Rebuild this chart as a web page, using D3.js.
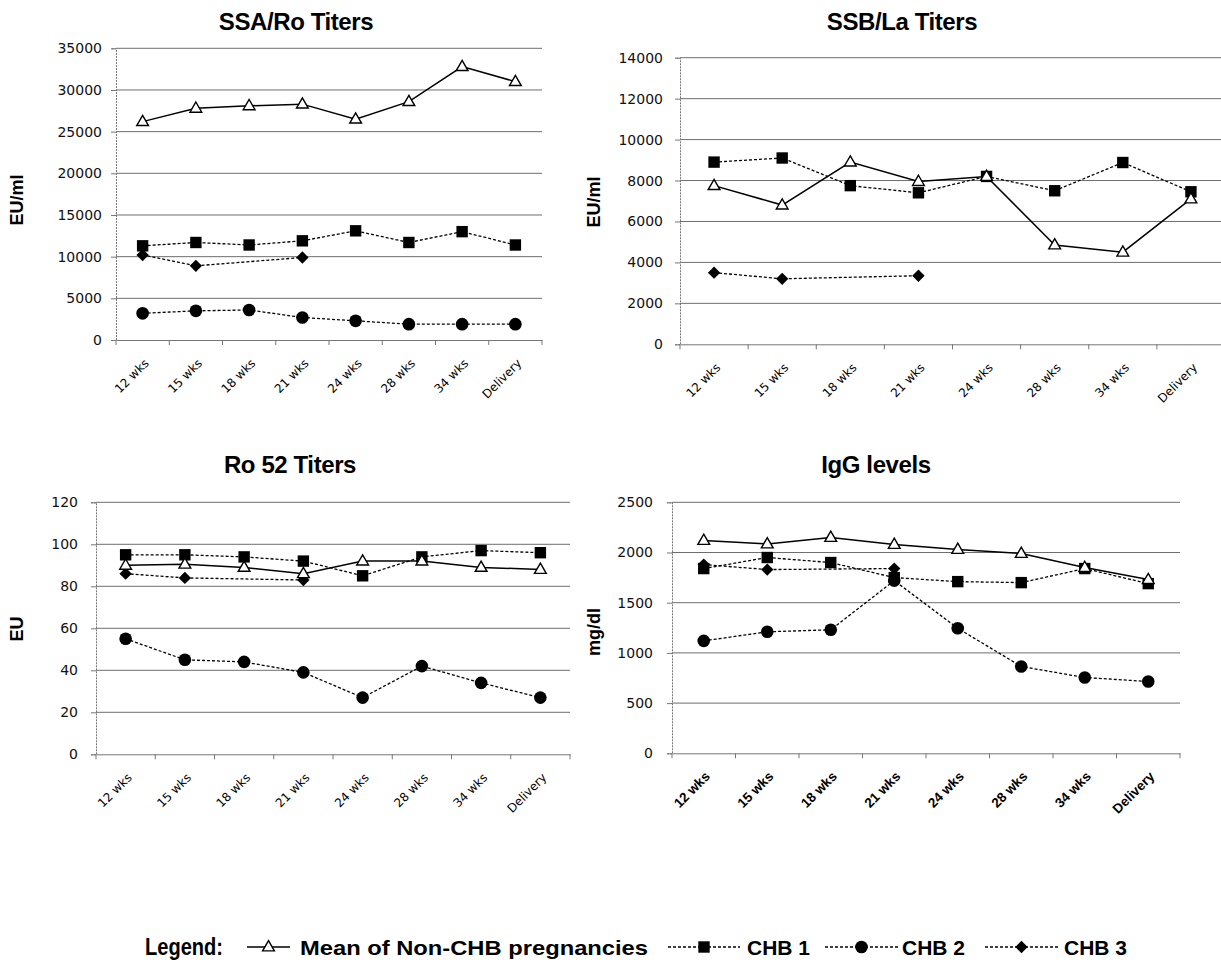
<!DOCTYPE html>
<html>
<head>
<meta charset="utf-8">
<script src="https://cdn.jsdelivr.net/npm/d3@7"></script>
<style>
  body { margin: 0; background: #fff; }
  svg { display: block; }
</style>
</head>
<body>
<svg id="chart" width="1221" height="962"></svg>
<script>
// ---------- DATA ----------
const categories = ["12 wks", "15 wks", "18 wks", "21 wks", "24 wks", "28 wks", "34 wks", "Delivery"];

const seriesNames = ["Mean of Non-CHB pregnancies", "CHB 1", "CHB 2", "CHB 3"];

// SSA/Ro Titers (EU/ml)
const ssaMean = [26200, 27800, 28100, 28300, 26500, 28600, 32800, 31000];
const ssaChb1 = [11300, 11700, 11400, 11900, 13100, 11700, 13000, 11400];
const ssaChb2 = [3200, 3500, 3600, 2700, 2300, 1900, 1900, 1900];
const ssaChb3 = [10200, 8900, null, 9900, null, null, null, null];
const ssaTicks = [0, 5000, 10000, 15000, 20000, 25000, 30000, 35000];

// SSB/La Titers (EU/ml)
const ssbMean = [7750, 6800, 8900, 7950, 8200, 4850, 4500, 7100];
const ssbChb1 = [8900, 9100, 7750, 7400, 8200, 7500, 8880, 7450];
const ssbChb2 = [null, null, null, null, null, null, null, null];
const ssbChb3 = [3500, 3200, null, 3350, null, null, null, null];
const ssbTicks = [0, 2000, 4000, 6000, 8000, 10000, 12000, 14000];

// Ro 52 Titers (EU)
const roMean = [90, 90.5, 89, 86, 92, 92, 89, 88];
const roChb1 = [95, 95, 94, 92, 85, 94, 97, 96];
const roChb2 = [55, 45, 44, 39, 27, 42, 34, 27];
const roChb3 = [86, 84, null, 83, null, null, null, null];
const roTicks = [0, 20, 40, 60, 80, 100, 120];

// IgG levels (mg/dl)
const iggMean = [2120, 2085, 2150, 2080, 2030, 1990, 1850, 1730];
const iggChb1 = [1840, 1950, 1900, 1750, 1710, 1700, 1840, 1690];
const iggChb2 = [1120, 1210, 1230, 1720, 1245, 865, 755, 715];
const iggChb3 = [1880, 1830, null, 1840, null, null, null, null];
const iggTicks = [0, 500, 1000, 1500, 2000, 2500];

// ---------- LAYOUT ----------
const svg = d3.select("#chart");
svg.append("rect").attr("width", 1221).attr("height", 962).attr("fill", "#fff");

const panels = [
  { title: "SSA/Ro Titers", titleX: 296, titleY: 30, yLabel: "EU/ml", yLabelX: 17, yLabelY: 200,
    x0: 116, x1: 542, yTop: 48.3, yBot: 340, ticks: ssaTicks, pad: 9,
    series: [ssaMean, ssaChb1, ssaChb2, ssaChb3], xFont: 12.5 },
  { title: "SSB/La Titers", titleX: 902, titleY: 30, yLabel: "EU/ml", yLabelX: 594, yLabelY: 202,
    x0: 680, x1: 1225, yTop: 57.7, yBot: 344.3, ticks: ssbTicks, pad: 12,
    series: [ssbMean, ssbChb1, ssbChb2, ssbChb3], xFont: 12.5 },
  { title: "Ro 52 Titers", titleX: 290, titleY: 473, yLabel: "EU", yLabelX: 17, yLabelY: 629,
    x0: 96, x1: 570, yTop: 502.3, yBot: 754.3, ticks: roTicks, pad: 13,
    series: [roMean, roChb1, roChb2, roChb3], xFont: 12.5 },
  { title: "IgG levels", titleX: 876, titleY: 473, yLabel: "mg/dl", yLabelX: 594, yLabelY: 632,
    x0: 672, x1: 1180, yTop: 502.3, yBot: 753.3, ticks: iggTicks, pad: 14,
    series: [iggMean, iggChb1, iggChb2, iggChb3], xFont: 13.5, xBold: true }
];

const styles = [
  { dash: null, width: 1.5, symbol: "triangle" },
  { dash: "3,2", width: 1.3, symbol: "square" },
  { dash: "3,2", width: 1.3, symbol: "circle" },
  { dash: "3,2", width: 1.3, symbol: "diamond" }
];

function drawMarker(g, type, cx, cy) {
  if (type === "triangle") {
    g.append("path").attr("d", d3.symbol().type(d3.symbolTriangle).size(60)())
      .attr("transform", `translate(${cx},${cy + 0.5})`)
      .attr("fill", "#fff").attr("stroke", "#000").attr("stroke-width", 1.4);
  } else if (type === "square") {
    g.append("path").attr("d", d3.symbol().type(d3.symbolSquare).size(130)())
      .attr("transform", `translate(${cx},${cy})`).attr("fill", "#000");
  } else if (type === "circle") {
    g.append("path").attr("d", d3.symbol().type(d3.symbolCircle).size(125)())
      .attr("transform", `translate(${cx},${cy})`).attr("fill", "#000");
  } else {
    g.append("path").attr("d", d3.symbol().type(d3.symbolSquare).size(76)())
      .attr("transform", `translate(${cx},${cy}) rotate(45)`).attr("fill", "#000");
  }
}

panels.forEach(p => {
  const g = svg.append("g");
  const x = d3.scaleBand().domain(categories).range([p.x0, p.x1]);
  const y = d3.scaleLinear().domain([0, d3.max(p.ticks)]).range([p.yBot, p.yTop]);
  const bw = x.bandwidth();

  // title
  g.append("text").attr("x", p.titleX).attr("y", p.titleY)
    .attr("text-anchor", "middle")
    .attr("font-family", "Liberation Sans, Arial, sans-serif")
    .attr("font-weight", "bold").attr("font-size", 24)
    .attr("letter-spacing", "-0.4px")
    .text(p.title);

  // y label
  g.append("text")
    .attr("transform", `translate(${p.yLabelX},${p.yLabelY}) rotate(-90)`)
    .attr("text-anchor", "middle").attr("dy", "0.35em")
    .attr("font-family", "Liberation Sans, Arial, sans-serif")
    .attr("font-weight", "bold").attr("font-size", 18)
    .text(p.yLabel);

  // gridlines
  g.append("g").selectAll("line").data(p.ticks.filter(t => t > 0)).join("line")
    .attr("x1", p.x0).attr("x2", p.x1)
    .attr("y1", d => y(d)).attr("y2", d => y(d))
    .attr("stroke", "#6e6e6e").attr("stroke-width", 1);

  // y axis
  const ya = g.append("g").attr("transform", `translate(${p.x0},0)`)
    .call(d3.axisLeft(y).tickValues(p.ticks).tickSize(5).tickPadding(p.pad).tickFormat(d3.format("d")));
  ya.select(".domain").attr("stroke", "#777").attr("stroke-dasharray", "2,1");
  ya.selectAll(".tick line").attr("stroke", "#777");
  ya.selectAll(".tick text").attr("font-family", "DejaVu Sans, sans-serif")
    .attr("font-size", 14).attr("fill", "#111");

  // x axis
  const xa = g.append("g").attr("transform", `translate(0,${p.yBot})`)
    .call(d3.axisBottom(x).tickSize(0).tickPadding(0));
  xa.select(".domain").attr("stroke", "#777");
  xa.selectAll(".tick text")
    .attr("font-family", p.xBold ? "Liberation Sans, Arial, sans-serif" : "DejaVu Sans, sans-serif")
    .attr("font-weight", p.xBold ? "bold" : "normal")
    .attr("font-size", p.xBold ? p.xFont : 12).attr("fill", "#000")
    .attr("text-anchor", "end").attr("y", 0).attr("dy", 0)
    .attr("transform", "translate(7,24) rotate(-45)");
  // boundary tick marks
  const bounds = categories.map(c => x(c)).concat([x.range()[1]]);
  g.append("g").selectAll("line").data(bounds).join("line")
    .attr("x1", d => d).attr("x2", d => d)
    .attr("y1", p.yBot).attr("y2", p.yBot + 5)
    .attr("stroke", "#777");

  // series (draw CHB first, mean last)
  const order = [1, 2, 3, 0];
  order.forEach(si => {
    const vals = p.series[si];
    const pts = categories.map((c, i) => ({ c, v: vals[i] })).filter(d => d.v !== null);
    if (!pts.length) return;
    const st = styles[si];
    const line = d3.line().x(d => x(d.c) + bw / 2).y(d => y(d.v));
    g.append("path").datum(pts).attr("d", line)
      .attr("fill", "none").attr("stroke", "#000")
      .attr("stroke-width", st.width)
      .attr("stroke-dasharray", st.dash);
    pts.forEach(d => drawMarker(g, st.symbol, x(d.c) + bw / 2, y(d.v)));
  });
});

// ---------- LEGEND ----------
const lg = svg.append("g");
const legY = 947;
lg.append("text").attr("x", 145).attr("y", 955)
  .attr("font-family", "Liberation Sans Narrow, Liberation Sans, Arial, sans-serif")
  .attr("font-weight", "bold").attr("font-size", 24)
  .attr("textLength", 78).attr("lengthAdjust", "spacingAndGlyphs")
  .text("Legend:");

const legendItems = [
  { x1: 247, x2: 290, tx: 300, tw: 348 },
  { x1: 668, x2: 740, tx: 747, tw: 63 },
  { x1: 825, x2: 898, tx: 902, tw: 63 },
  { x1: 985, x2: 1058, tx: 1064, tw: 63 }
];
legendItems.forEach((it, i) => {
  const st = styles[i];
  lg.append("line").attr("x1", it.x1).attr("x2", it.x2).attr("y1", legY).attr("y2", legY)
    .attr("stroke", "#000").attr("stroke-width", st.width).attr("stroke-dasharray", st.dash);
  drawMarker(lg, st.symbol, (it.x1 + it.x2) / 2, legY);
  lg.append("text").attr("x", it.tx).attr("y", 955)
    .attr("font-family", "Liberation Sans Narrow, Liberation Sans, Arial, sans-serif")
    .attr("font-weight", "bold").attr("font-size", 21)
    .attr("textLength", it.tw).attr("lengthAdjust", "spacingAndGlyphs")
    .text(seriesNames[i]);
});
</script>
</body>
</html>
